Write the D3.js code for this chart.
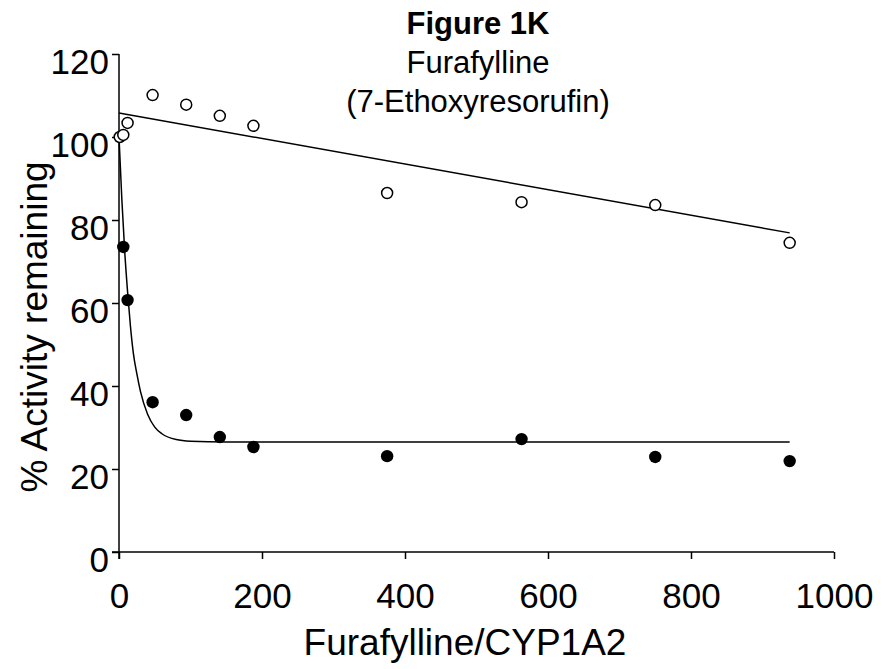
<!DOCTYPE html>
<html>
<head>
<meta charset="utf-8">
<script src="https://cdn.jsdelivr.net/npm/d3@7"></script>
<style>
  body { margin: 0; background: #fff; }
  svg { display: block; font-family: Arial, "Liberation Sans", sans-serif; }
  .axis path, .axis line { stroke: #000; stroke-width: 1.5; }
  .axis text { font-size: 35px; fill: #000; }
</style>
</head>
<body>
<svg id="chart" width="888" height="669"></svg>
<script>
// ratio furafylline/CYP1A2
var ratio = [1, 6, 12, 47, 94, 141, 188, 375, 563, 750, 938];
// control (open circles)
var controlPts = [100.0, 100.5, 103.4, 110.1, 107.8, 105.1, 102.7, 86.5, 84.3, 83.6, 74.5];
// with furafylline (filled circles)
var inhibX = [6, 12, 47, 94, 141, 188, 375, 563, 750, 938];
var inhibPts = [73.5, 60.7, 36.1, 33.0, 27.7, 25.3, 23.1, 27.2, 22.9, 21.9];

// fitted lines
var linFitX = [0, 938];
var linFitY = [105.8, 76.9];
var decayFitX = [0, 4, 8, 12, 16, 20, 25, 30, 40, 50, 60, 80, 100, 150, 938];
var decayFitY = [100, 84.9, 72.4, 62.7, 54.4, 48.0, 42.9, 38.7, 33.2, 30.1, 28.5, 27.1, 26.7, 26.5, 26.5];

var xTicks = [0, 200, 400, 600, 800, 1000];
var yTicks = [0, 20, 40, 60, 80, 100, 120];
var titleLines = ["Figure 1K", "Furafylline", "(7-Ethoxyresorufin)"];

var margin = { top: 54, left: 119 }, width = 715, height = 498;

var x = d3.scaleLinear().domain([0, 1000]).range([0, width]);
var y = d3.scaleLinear().domain([0, 120]).range([height, 0]);

var svg = d3.select("#chart");
var g = svg.append("g")
    .attr("transform", "translate(" + margin.left + "," + margin.top + ")");

// x axis, the line runs a bit past the y axis as in the original
var xAxis = g.append("g")
    .attr("class", "axis")
    .attr("transform", "translate(0," + height + ")")
    .call(d3.axisBottom(x).tickValues(xTicks).tickFormat(d3.format("d"))
        .tickSize(7).tickPadding(24).tickSizeOuter(0));
xAxis.select(".domain").attr("d", "M-7,0H" + width);

var yAxis = g.append("g")
    .attr("class", "axis")
    .call(d3.axisLeft(y).tickValues(yTicks).tickFormat(d3.format("d"))
        .tickSize(7).tickPadding(3).tickSizeOuter(0));
yAxis.select(".domain").attr("d", "M0,0V" + (height + 7));
yAxis.selectAll("text").attr("dy", "0.55em");

// fit lines
var line = d3.line().x(function (d) { return x(d[0]); }).y(function (d) { return y(d[1]); });
g.append("path")
    .datum(d3.zip(linFitX, linFitY))
    .attr("d", line)
    .attr("fill", "none").attr("stroke", "#000").attr("stroke-width", 1.5);
g.append("path")
    .datum(d3.zip(decayFitX, decayFitY))
    .attr("d", line.curve(d3.curveMonotoneX))
    .attr("fill", "none").attr("stroke", "#000").attr("stroke-width", 1.5);

// points
g.selectAll(".open")
    .data(d3.zip(ratio, controlPts))
    .enter().append("circle")
    .attr("class", "open")
    .attr("cx", function (d) { return x(d[0]); })
    .attr("cy", function (d) { return y(d[1]); })
    .attr("r", 5.5)
    .attr("fill", "#fff").attr("stroke", "#000").attr("stroke-width", 1.5);

g.selectAll(".filled")
    .data(d3.zip(inhibX, inhibPts))
    .enter().append("circle")
    .attr("class", "filled")
    .attr("cx", function (d) { return x(d[0]); })
    .attr("cy", function (d) { return y(d[1]); })
    .attr("r", 6.2)
    .attr("fill", "#000");

// axis titles
svg.append("text")
    .attr("x", 465).attr("y", 655)
    .attr("text-anchor", "middle")
    .style("font-size", "37px")
    .text("Furafylline/CYP1A2");

svg.append("text")
    .attr("transform", "translate(47,327) rotate(-90)")
    .attr("text-anchor", "middle")
    .style("font-size", "37px")
    .text("% Activity remaining");

// title
svg.selectAll(".title")
    .data(titleLines)
    .enter().append("text")
    .attr("class", "title")
    .attr("x", 478)
    .attr("y", function (d, i) { return 34 + i * 39; })
    .attr("text-anchor", "middle")
    .style("font-size", "31px")
    .style("font-weight", function (d, i) { return i === 0 ? "bold" : "normal"; })
    .text(function (d) { return d; });
</script>
</body>
</html>
